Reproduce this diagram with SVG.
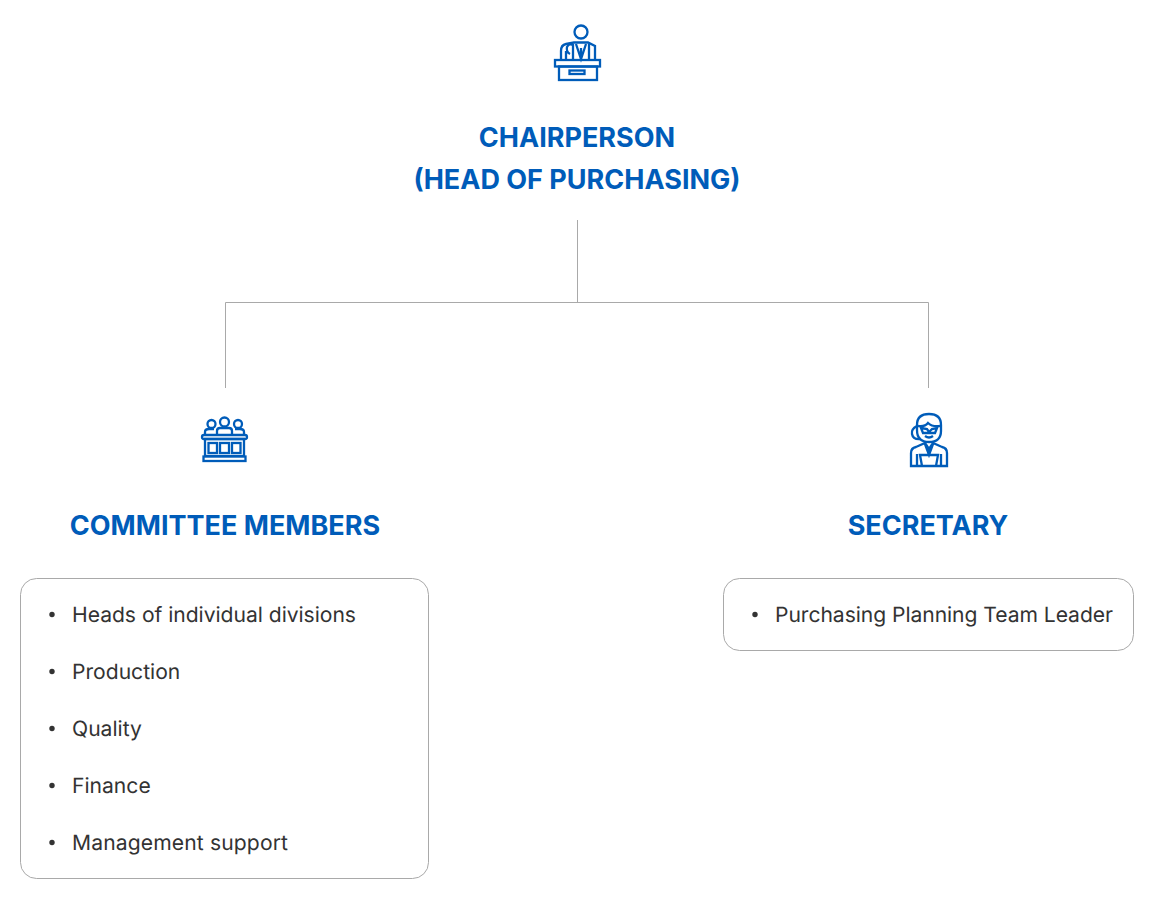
<svg xmlns="http://www.w3.org/2000/svg" width="1154" height="899" viewBox="0 0 1154 899">
<style>
.h{font-family:Inter,"Liberation Sans",sans-serif;font-size:27px;font-weight:700;fill:#005cb9;text-anchor:middle}
.t{font-family:Inter,"Liberation Sans",sans-serif;font-size:21.100px;font-weight:400;fill:#333;text-rendering:geometricPrecision}
.box{fill:#fff;stroke:#a9a9a9;stroke-width:1}
.ic{fill:none;stroke:#005cb9;stroke-width:2.300}
.d{fill:#333}
.c{fill:none;stroke:#a9a9a9;stroke-width:1}
</style>
<rect width="1154" height="899" fill="#fff"/>
<g id="connectors"><path class="c" d="M577.500 220V302M225.500 388V302.500H928.500V388"/></g>
<g id="chairperson">
<g class="ic"><circle cx="581" cy="32" r="6.500"/><path d="M561 60V51Q561 45 566 44L574 42.500H588L595 46V60"/><path d="M566 60V51M573 44V60M589 44V60M576 44L581 59L586 44M581 48V59M570 54Q566 52 567 47Q569 43 573 45"/><rect x="555" y="60" width="45" height="6.500"/><rect x="559" y="66.500" width="38" height="13.500"/><rect x="569.500" y="70.500" width="15" height="3.500"/></g>
<text class="h" x="577" y="147">CHAIRPERSON</text>
<text class="h" x="577" y="189">(HEAD OF PURCHASING)</text>
</g>
<g id="committee">
<g class="ic"><circle cx="211.500" cy="424" r="4"/><circle cx="224.500" cy="422" r="4.500"/><circle cx="238" cy="424" r="4"/><path d="M205 435V432Q205 429 209 429H214M217 435V431Q217 428 220 428H229Q232 428 232 431V435M235 429H240Q244 429 244 432V435"/><rect x="202" y="435" width="45" height="4" rx="2"/><rect x="205" y="439" width="39" height="17"/><rect x="208.500" y="443" width="8.500" height="10"/><rect x="220" y="443" width="9" height="10"/><rect x="232" y="443" width="8.500" height="10"/><rect x="203.500" y="456.500" width="42" height="4.500"/></g>
<text class="h" x="225" y="535">COMMITTEE MEMBERS</text>
<rect class="box" x="20.500" y="578.500" width="408" height="300" rx="16"/>
<circle class="d" cx="52" cy="614.500" r="2.700"/><text class="t" x="72" y="622" textLength="284">Heads of individual divisions</text>
<circle class="d" cx="52" cy="671.500" r="2.700"/><text class="t" x="72" y="679">Production</text>
<circle class="d" cx="52" cy="728.500" r="2.700"/><text class="t" x="72" y="736">Quality</text>
<circle class="d" cx="52" cy="785.500" r="2.700"/><text class="t" x="72" y="793">Finance</text>
<circle class="d" cx="52" cy="842.500" r="2.700"/><text class="t" x="72" y="850" textLength="216">Management support</text>
</g>
<g id="secretary">
<g class="ic"><path d="M917 430V425Q917 414 929 414Q941 414 941 425V431Q941 442 929 442Q917 442 917 430Z"/><path d="M918 426Q925 427 928 423Q932 427 940 426M921 428L927 429L929 432L932 429L937 428L935 433H923ZM925 436Q929 439 933 436"/><path d="M917 426Q911 429 912 434Q913 440 921 439"/><path d="M911 466V453Q911 448 916 447L925 443L929 449L933 443L942 447Q947 448 947 453V466ZM917 466V454M941 466V454M920 455H938L936 466H922ZM925 444L929 455L933 444"/></g>
<text class="h" x="928" y="535">SECRETARY</text>
<rect class="box" x="723.500" y="578.500" width="410" height="72" rx="16"/>
<circle class="d" cx="755" cy="614.500" r="2.700"/><text class="t" x="775" y="622" textLength="338">Purchasing Planning Team Leader</text>
</g>
</svg>
